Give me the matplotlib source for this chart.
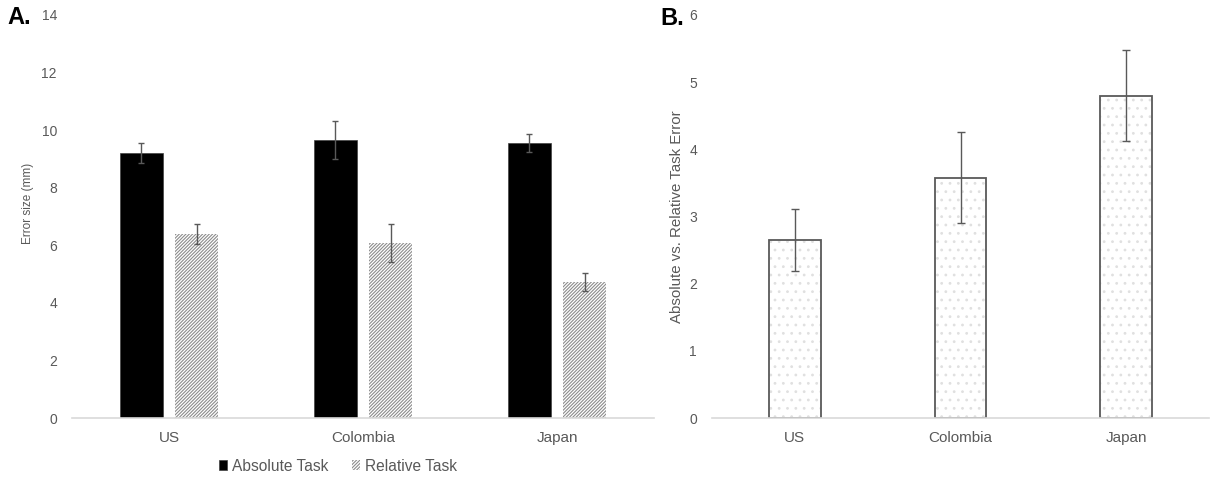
import numpy as np
import matplotlib.pyplot as plt

plt.rcParams['font.family'] = ['Liberation Sans', 'DejaVu Sans']
plt.rcParams['hatch.linewidth'] = 0.8

countries = ['US', 'Colombia', 'Japan']

# error size (mm) per task
absolute_task = [9.2, 9.65, 9.55]
absolute_err = [0.35, 0.65, 0.3]
relative_task = [6.38, 6.08, 4.72]
relative_err = [0.35, 0.65, 0.32]

# ratio of absolute to relative task error
ratio = [2.65, 3.58, 4.8]
ratio_err = [0.46, 0.68, 0.68]

grey_txt = '#595959'
axis_col = '#d9d9d9'

fig = plt.figure(figsize=(12.14, 4.8), dpi=100)
ax1 = fig.add_axes([0.0593, 0.129, 0.4794, 0.840])
ax2 = fig.add_axes([0.5865, 0.129, 0.4094, 0.840])

x = np.arange(len(countries))
w = 0.222
off = 0.142

ax1.bar(x - off, absolute_task, w, color='black', edgecolor='#404040', linewidth=0.5,
        label='Absolute Task')
ax1.bar(x + off, relative_task, w, color='white', edgecolor='#8c8c8c', linewidth=0,
        hatch='//////////', label='Relative Task')
ax1.errorbar(x - off, absolute_task, yerr=absolute_err, fmt='none', ecolor=grey_txt,
             elinewidth=1, capsize=2.2, capthick=1)
ax1.errorbar(x + off, relative_task, yerr=relative_err, fmt='none', ecolor=grey_txt,
             elinewidth=1, capsize=2.2, capthick=1)
ax1.set_ylim(0, 14)
ax1.set_yticks(range(0, 15, 2))
ax1.set_xlim(-0.5, 2.5)
ax1.set_xticks(x)
ax1.set_xticklabels(countries)
ax1.set_ylabel('Error size (mm)', color=grey_txt, fontsize=8.5)
ax1.yaxis.set_label_coords(-0.066, 0.533)
ax1.legend(loc='center', bbox_to_anchor=(0.457, -0.119), ncol=2, frameon=False,
           fontsize=11.2, handlelength=0.55, handleheight=0.55, handletextpad=0.3,
           columnspacing=1.5, labelcolor=grey_txt)

# dotted fill, then a dark outline on top
ax2.bar(x, ratio, 0.313, color='white', edgecolor='#e0e0e0', linewidth=0, hatch='..')
ax2.bar(x, ratio, 0.313, fill=False, edgecolor=grey_txt, linewidth=1.3)
ax2.errorbar(x, ratio, yerr=ratio_err, fmt='none', ecolor=grey_txt,
             elinewidth=1, capsize=3, capthick=1)
ax2.set_ylim(0, 6)
ax2.set_yticks(range(0, 7))
ax2.set_xlim(-0.5, 2.5)
ax2.set_xticks(x)
ax2.set_xticklabels(countries)
ax2.set_ylabel('Absolute vs. Relative Task Error', color=grey_txt, fontsize=10.8)
ax2.yaxis.set_label_coords(-0.056, 0.5)

for ax in (ax1, ax2):
    for s in ('top', 'right', 'left'):
        ax.spines[s].set_visible(False)
    ax.spines['bottom'].set_color(axis_col)
    ax.spines['bottom'].set_linewidth(1.2)
    ax.tick_params(axis='both', length=0, labelcolor=grey_txt)
    ax.tick_params(axis='y', pad=10.8, labelsize=10)
    ax.tick_params(axis='x', pad=9.5, labelsize=11)

fig.text(0.006, 0.963, 'A.', fontsize=17, fontweight='bold', va='center')
fig.text(0.544, 0.962, 'B.', fontsize=17, fontweight='bold', va='center')

fig.savefig('out.png', dpi=100)
